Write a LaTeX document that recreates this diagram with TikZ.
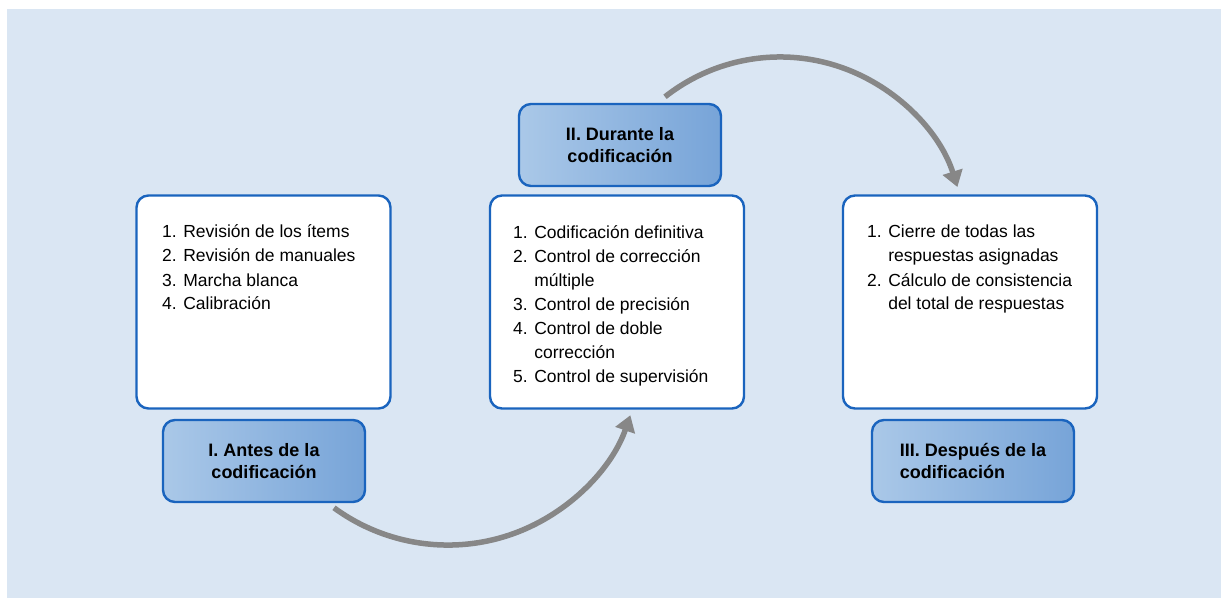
\documentclass[tikz,border=0pt]{standalone}
\usepackage{fontspec}
\setmainfont{Liberation Sans}
\usetikzlibrary{arrows.meta}
\definecolor{bgblue}{HTML}{DAE6F3}
\definecolor{edgeblue}{HTML}{1A64BE}
\definecolor{lblleft}{HTML}{AAC8E8}
\definecolor{lblright}{HTML}{77A4D8}
\definecolor{arrowgray}{HTML}{878787}
\tikzset{
  itembox/.style={draw=edgeblue, line width=2.4pt, fill=white, rounded corners=12pt,
    minimum width=254pt, minimum height=213pt, inner sep=0pt},
  lblbox/.style={draw=edgeblue, line width=2.4pt, rounded corners=12pt,
    left color=lblleft, right color=lblright,
    minimum width=202pt, minimum height=82pt, inner sep=0pt,
    font=\bfseries\fontsize{18}{22}\selectfont},
  itemtext/.style={anchor=north west, inner sep=0pt, align=left,
    font=\fontsize{17.5}{24}\selectfont},
  cyclearrow/.style={draw=arrowgray, line width=5.5pt,
    -{Triangle[width=20pt,length=16pt]}}
}
\begin{document}
\begin{tikzpicture}[x=1pt,y=1pt]
\useasboundingbox (0,0) rectangle (1221,598);
\fill[bgblue] (7,0) rectangle (1221,589);

% content boxes
\node[itembox] (b1) at (263.5,296) {};
\node[itembox] (b2) at (617,296) {};
\node[itembox] (b3) at (970,296) {};

\node[itemtext] (t1) at (162,377) {\strut1. Revisión de los ítems\\2. Revisión de manuales\\3. Marcha blanca\\4. Calibración};
\node[itemtext] (t2) at (513,377) {\strut1. Codificación definitiva\\2. Control de corrección\\\phantom{2. }múltiple\\3. Control de precisión\\4. Control de doble\\\phantom{4. }corrección\\5. Control de supervisión};
\node[itemtext] (t3) at (867,377) {\strut1. Cierre de todas las\\\phantom{1. }respuestas asignadas\\2. Cálculo de consistencia\\\phantom{2. }del total de respuestas};

% labels
\node[lblbox, align=center] (l1) at (264,137) {I. Antes de la\\codificación};
\node[lblbox, align=center] (l2) at (620,453) {II. Durante la\\codificación};
\node[lblbox, align=left] (l3) at (973,137) {III. Después de la\\codificación};

% arrows
\coordinate (a1s) at (334,90.2);
\coordinate (a2s) at (665,501.2);
\draw[cyclearrow] (a1s) arc[start angle=-126.2, end angle=-19.1, radius=193];
\draw[cyclearrow] (a2s) arc[start angle=128.2, end angle=17.5, radius=186];
\end{tikzpicture}
\end{document}
